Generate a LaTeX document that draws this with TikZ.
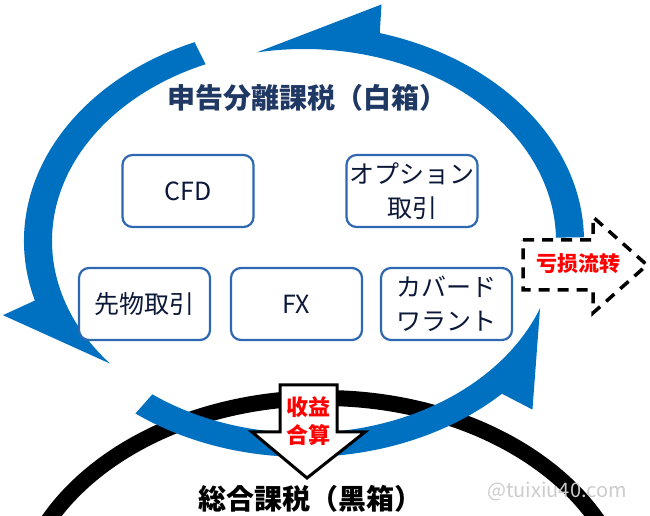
\documentclass[tikz,border=0pt]{standalone}
\usepackage{fontspec}
\setmainfont{Noto Sans CJK JP}
\newfontfamily\sccjk{Noto Sans CJK SC}
\usepackage{tikz}
\usetikzlibrary{calc,positioning}
\definecolor{cycleblue}{RGB}{0,112,192}
\definecolor{boxblue}{RGB}{46,104,176}
\definecolor{navytext}{RGB}{31,56,100}
\definecolor{boxtext}{RGB}{12,24,56}
\tikzset{
    deal box/.style={
        draw=boxblue,line width=2.2pt,rounded corners=10pt,
        fill=white,
        minimum width=131pt,minimum height=72pt,
        inner sep=0pt,align=center,text=boxtext,
        font=\fontsize{25}{34}\selectfont
    },
    cycle arc/.style={fill=cycleblue},
    red label/.style={
        text=red,align=center,inner sep=0pt,
        font=\sccjk\bfseries\fontsize{22}{28}\selectfont
    },
    title label/.style={
        inner sep=0pt,font=\bfseries\fontsize{28}{28}\selectfont
    }
}
% one blue turn: start angle, base of head, barb angle, tip angle
\newcommand{\cyclearc}[4]{%
    \fill[cycle arc] (#1:280pt and 216pt)
        arc[start angle=#1,end angle=#2,x radius=280pt,y radius=216pt]
        -- (#3:316pt and 244pt) -- (#4:252pt and 192pt)
        arc[start angle=#4,end angle=#1,x radius=252pt,y radius=192pt] -- cycle;}

\begin{document}
\begin{tikzpicture}[x=1pt,y=1pt]
\useasboundingbox (0,0) rectangle (650,516);
\fill[white] (0,0) rectangle (650,516);
\begin{scope}
    \clip (0,0) rectangle (650,516);
    \draw[line width=16pt] (323,-104) ellipse [x radius=307pt,y radius=222pt];
\end{scope}
\begin{scope}[shift={(304,275)}]
    \cyclearc{1}{74.3}{75.8}{100.8}
    \cyclearc{113}{196}{197.7}{219.7}
    \cyclearc{233}{315}{316.3}{339.5}
\end{scope}

\node[title label,text=navytext] (white_title) at (307,418) {申告分離課税（白箱）};
\foreach \i/\x/\y/\name in {cfd/188/325/CFD,option/412/325/{オプション\\取引},
    future/144.5/212/先物取引,fx/296.5/212/FX,warrant/446.5/212/{カバード\\ワラント}}
    \node[deal box] (box_\i) at (\x,\y) {\name};

\draw[line width=3pt,fill=white] (280,131) -- (337,131) -- (337,84) -- (365,84)
    -- (307,38) -- (252,84) -- (280,84) -- cycle;
\node[red label] (sum_label) at (308,95) {收益\\合算};

\draw[line width=3.5pt,dash pattern=on 11pt off 8pt,fill=white] (523,276) -- (593,276)
    -- (593,299) -- (647,251) -- (593,203) -- (593,226) -- (523,226) -- cycle;
\node[red label,font=\sccjk\bfseries\fontsize{21}{21}\selectfont] (carry_label) at (578,252) {亏损流转};

\node[title label] (black_title) at (310,17) {総合課税（黑箱）};
\node[inner sep=0pt,text=gray!40,font=\fontsize{20}{20}\selectfont] (mark) at (557,25) {@tuixiu40.com};
\end{tikzpicture}
\end{document}
